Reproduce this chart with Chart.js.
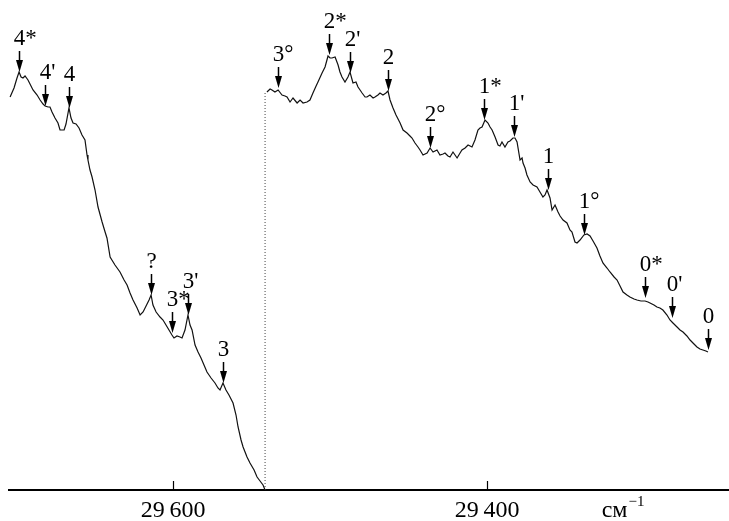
<!DOCTYPE html>
<html>
<head>
<meta charset="utf-8">
<script src="https://cdn.jsdelivr.net/npm/chart.js@4.4.0/dist/chart.umd.min.js"></script>
<style>
  html, body { margin: 0; padding: 0; background: #fff; }
  #wrap { width: 729px; height: 521px; }
</style>
</head>
<body>
<div id="wrap"><canvas id="spectrum"></canvas></div>
<script>
// left record: wavenumber (cm-1) and intensity (arb. units)
const leftWn = [29703.8, 29701.3, 29699.4, 29698.1, 29696.8, 29695.6, 29694.3, 29692.4, 29689.2, 29686.6,
  29684.7, 29682.8, 29681.5, 29679.6, 29678.4, 29677.1, 29675.2, 29673.3, 29672.0, 29669.4,
  29668.2, 29666.3, 29665.0, 29663.7, 29661.8, 29659.9, 29658.0, 29656.1, 29654.8, 29654.2,
  29652.9, 29651.6, 29649.7, 29647.8, 29645.2, 29643.3, 29642.1, 29640.1, 29637.0, 29633.8,
  29631.2, 29629.3, 29627.4, 29625.5, 29622.9, 29621.0, 29619.1, 29617.2, 29615.3, 29614.0,
  29612.8, 29610.8, 29608.3, 29606.4, 29604.5, 29602.6, 29600.7, 29599.4, 29597.5, 29595.6,
  29594.3, 29592.4, 29590.5, 29589.2, 29587.9, 29586.0, 29584.1, 29582.2, 29580.3, 29578.4,
  29575.8, 29573.3, 29571.4, 29570.1, 29568.2, 29566.3, 29564.4, 29561.8, 29559.9, 29558.6,
  29556.7, 29555.4, 29552.9, 29551.0, 29548.4, 29546.5, 29544.6, 29542.7, 29541.4];
const leftI = [393, 402, 412, 418, 413, 412, 414, 410, 400, 395,
  390, 386, 384, 383, 383, 378, 372, 367, 360, 360,
  366, 382, 372, 367, 366, 362, 355, 350, 335, 330,
  320, 313, 300, 283, 268, 258, 252, 233, 225, 218,
  210, 205, 197, 190, 182, 175, 178, 184, 190, 195,
  185, 178, 173, 170, 165, 160, 155, 152, 154, 153,
  152, 160, 175, 165, 160, 145, 138, 132, 125, 118,
  112, 107, 102, 100, 107, 100, 95, 87, 75, 63,
  50, 43, 33, 27, 20, 13, 9, 5, 0];

// right record
const rightWn = [29540.2, 29538.2, 29537.0, 29535.1, 29533.1, 29530.6, 29528.7, 29527.4, 29525.5, 29523.6,
  29521.0, 29519.1, 29517.2, 29514.7, 29512.8, 29510.9, 29508.9, 29507.7, 29505.1, 29503.2,
  29501.3, 29500.0, 29498.8, 29496.8, 29494.9, 29493.7, 29492.4, 29490.5, 29488.6, 29487.3,
  29485.4, 29483.5, 29482.2, 29480.9, 29479.6, 29477.7, 29476.5, 29474.6, 29472.6, 29471.4,
  29469.5, 29468.2, 29466.3, 29464.4, 29463.1, 29461.8, 29459.9, 29458.0, 29455.4, 29453.5,
  29451.0, 29449.1, 29447.8, 29445.9, 29444.0, 29442.7, 29440.8, 29438.2, 29436.3, 29434.4,
  29431.9, 29430.0, 29428.0, 29426.8, 29424.9, 29423.6, 29421.7, 29419.1, 29417.2, 29416.0,
  29414.0, 29412.1, 29409.6, 29407.7, 29405.8, 29404.5, 29403.2, 29401.3, 29399.4, 29398.1,
  29396.8, 29394.9, 29393.0, 29391.8, 29390.5, 29388.6, 29386.7, 29385.4, 29383.5, 29382.2,
  29380.9, 29379.0, 29377.7, 29377.1, 29375.8, 29374.6, 29372.6, 29370.7, 29368.2, 29366.3,
  29364.4, 29363.1, 29361.8, 29359.9, 29358.6, 29356.7, 29354.8, 29353.5, 29351.6, 29349.1,
  29347.2, 29345.9, 29344.0, 29342.7, 29340.8, 29338.3, 29336.3, 29334.4, 29332.5, 29330.0,
  29328.1, 29326.2, 29323.6, 29321.7, 29319.1, 29317.2, 29315.3, 29313.4, 29310.9, 29309.0,
  29306.4, 29304.5, 29302.0, 29299.4, 29297.5, 29296.2, 29293.7, 29291.8, 29289.9, 29288.0,
  29285.4, 29283.5, 29281.6, 29279.0, 29277.1, 29275.2, 29272.7, 29270.7, 29268.2, 29266.3,
  29264.4, 29262.5, 29260.6, 29259.3];
const rightI = [398, 401, 400, 398, 400, 395, 394, 393, 388, 392,
  387, 390, 387, 388, 390, 397, 404, 408, 417, 423,
  434, 432, 432, 433, 425, 418, 413, 408, 413, 418,
  407, 408, 403, 400, 397, 393, 393, 395, 392, 393,
  395, 397, 395, 397, 399, 390, 382, 375, 367, 360,
  357, 354, 352, 347, 343, 340, 335, 337, 342, 338,
  340, 335, 336, 337, 334, 333, 338, 332, 337, 340,
  342, 345, 343, 350, 360, 362, 363, 370, 367, 363,
  360, 353, 345, 344, 348, 343, 348, 349, 352, 352,
  348, 330, 332, 327, 322, 315, 308, 305, 303, 298,
  293, 295, 300, 292, 280, 285, 278, 274, 270, 267,
  260, 258, 248, 247, 250, 255, 256, 254, 249, 242,
  234, 227, 222, 218, 213, 210, 204, 198, 195, 193,
  191, 190, 189, 189, 188, 187, 185, 183, 182, 180,
  175, 170, 167, 163, 160, 158, 154, 150, 146, 143,
  141, 140, 139, 138];

// dotted line joining the two records
const joinWn = [29541.4, 29541.4];
const joinI = [0, 398];

// band assignments (arrow tips)
const peakLabels = ["4*", "4'", "4", "?", "3*", "3'", "3", "3°", "2*", "2'", "2", "2°", "1*", "1'", "1", "1°", "0*", "0'", "0"];
const peakWn = [29698.1, 29681.5, 29666.3, 29614.0, 29600.7, 29590.5, 29568.2, 29533.1, 29500.7, 29487.3,
  29463.1, 29436.3, 29401.9, 29382.8, 29361.2, 29338.3, 29299.4, 29282.2, 29259.3];
const peakI = [418, 384, 382, 195, 157, 175, 107, 402, 435, 417, 399, 342, 370, 353, 300, 255, 192, 172, 140];

const tickValues = [29600, 29400];
const tickLabels = ["29\u2009600", "29\u2009400"];
const unitText = "см";
const unitExp = "\u22121";

const serif = "'Liberation Serif', 'DejaVu Serif', serif";
const toXY = (xs, ys) => xs.map((x, i) => ({ x: x, y: ys[i] }));

// arrows + labels, inward tick marks, unit
const annotate = {
  id: "annotate",
  afterDatasetsDraw(chart) {
    const { ctx, chartArea } = chart;
    const xs = chart.scales.x, ys = chart.scales.y;
    ctx.save();
    ctx.fillStyle = "#000";
    ctx.strokeStyle = "#000";
    ctx.lineWidth = 1.5;
    ctx.font = "23px " + serif;
    ctx.textBaseline = "alphabetic";
    ctx.textAlign = "left";
    peakLabels.forEach((lab, i) => {
      const px = Math.round(xs.getPixelForValue(peakWn[i])) + 0.5;
      const py = ys.getPixelForValue(peakI[i]);
      ctx.beginPath();
      ctx.moveTo(px, py - 21);
      ctx.lineTo(px, py - 10);
      ctx.stroke();
      ctx.beginPath();
      ctx.moveTo(px - 3.5, py - 12);
      ctx.lineTo(px + 3.5, py - 12);
      ctx.lineTo(px, py);
      ctx.closePath();
      ctx.fill();
      const w0 = ctx.measureText(lab[0]).width;
      ctx.fillText(lab, px - w0 / 2, py - 27);
    });

    ctx.lineWidth = 1.2;
    tickValues.forEach(v => {
      const px = Math.round(xs.getPixelForValue(v)) + 0.5;
      ctx.beginPath();
      ctx.moveTo(px, chartArea.bottom);
      ctx.lineTo(px, chartArea.bottom - 9);
      ctx.stroke();
    });

    const ux = xs.getPixelForValue(29327);
    const uy = chartArea.bottom + 27;
    ctx.font = "24px " + serif;
    ctx.fillText(unitText, ux, uy);
    const uw = ctx.measureText(unitText).width;
    ctx.font = "15px " + serif;
    ctx.fillText(unitExp, ux + uw + 1, uy - 11);
    ctx.restore();
  }
};

new Chart(document.getElementById("spectrum"), {
  type: "line",
  data: {
    datasets: [
      {
        data: toXY(leftWn, leftI),
        borderColor: "#111",
        borderWidth: 1.2,
        pointRadius: 0,
        tension: 0,
      },
      {
        data: toXY(rightWn, rightI),
        borderColor: "#111",
        borderWidth: 1.2,
        pointRadius: 0,
        tension: 0,
      },
      {
        data: toXY(joinWn, joinI),
        borderColor: "#444",
        borderWidth: 1,
        borderDash: [1, 2],
        pointRadius: 0,
      },
    ],
  },
  options: {
    responsive: true,
    maintainAspectRatio: false,
    animation: false,
    layout: { padding: { left: 9, right: 0, top: 0, bottom: 0 } },
    plugins: {
      legend: { display: false },
      tooltip: { enabled: false },
    },
    scales: {
      x: {
        type: "linear",
        reverse: true,
        min: 29245.9,
        max: 29704.5,
        afterBuildTicks: (scale) => {
          scale.ticks = tickValues.map(v => ({ value: v }));
        },
        afterFit: (scale) => {
          scale.height = 31;
        },
        grid: { drawOnChartArea: false, drawTicks: false },
        border: { display: true, color: "#000", width: 2 },
        ticks: {
          color: "#000",
          padding: 8,
          maxRotation: 0,
          font: { family: serif, size: 24, lineHeight: 1.1 },
          callback: (v) => tickLabels[tickValues.indexOf(v)],
        },
      },
      y: {
        display: false,
        min: 0,
        max: 490,
      },
    },
  },
  plugins: [annotate],
});
</script>
</body>
</html>
